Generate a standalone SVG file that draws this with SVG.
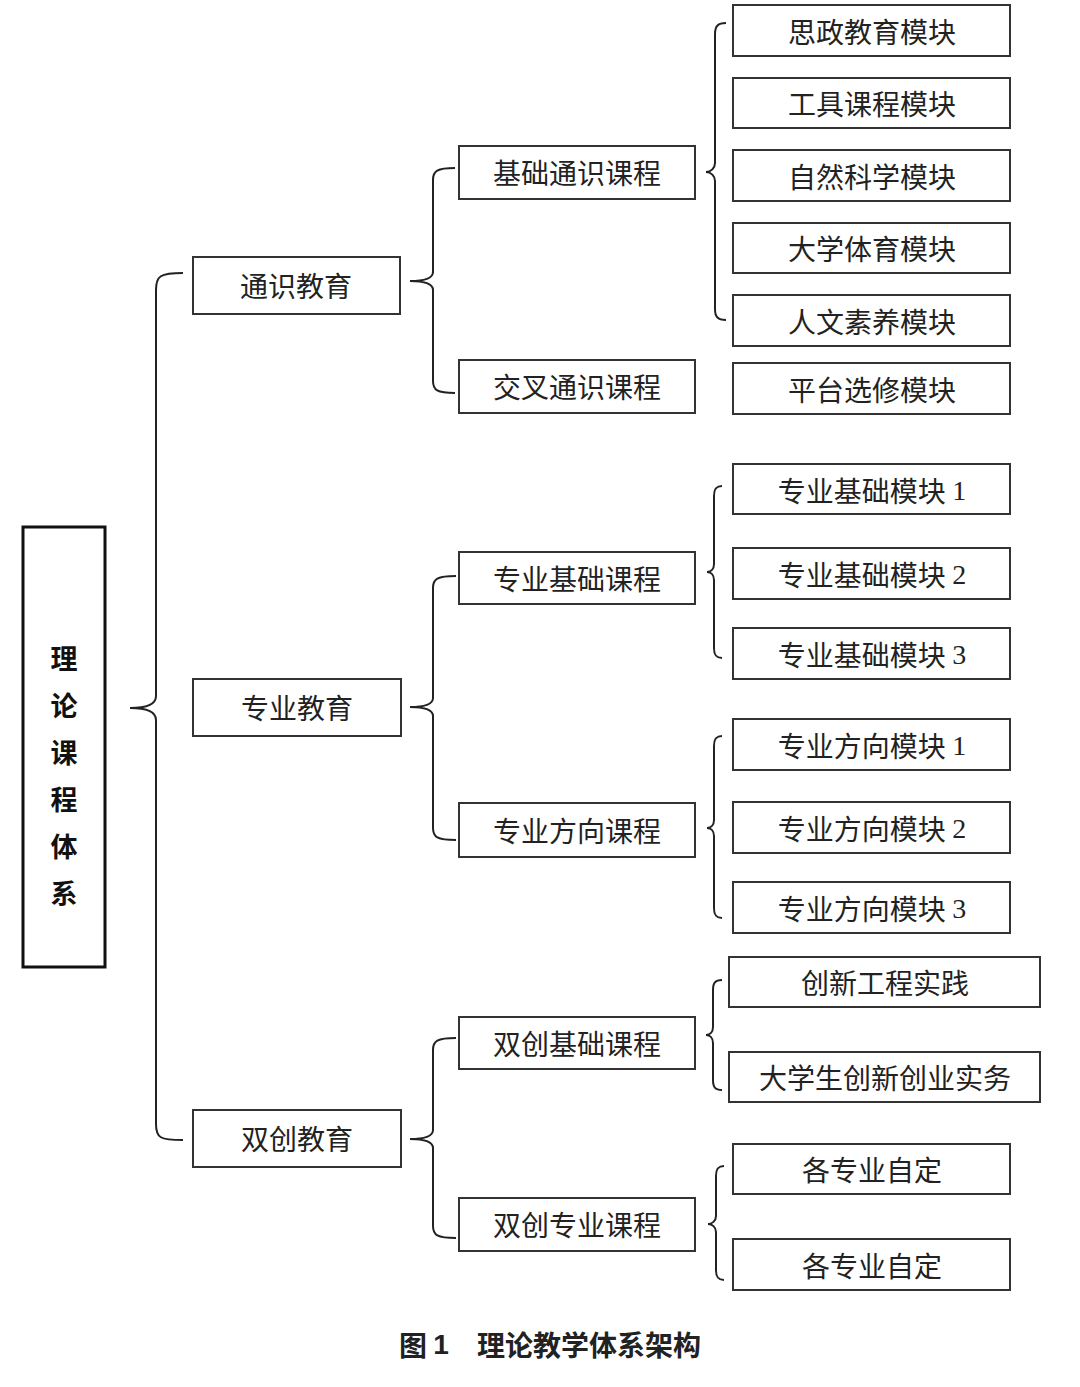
<svg xmlns="http://www.w3.org/2000/svg" width="1080" height="1387" viewBox="0 0 1080 1387">
<style>
.bx{fill:#fff;stroke:#333;stroke-width:2}
.root{fill:#fff;stroke:#111;stroke-width:3}
.t{font-family:"Noto Sans CJK SC","Noto Sans",sans-serif;font-size:28px;fill:#222;text-anchor:middle;dominant-baseline:central}
.rt{font-family:"Noto Sans CJK SC",sans-serif;font-size:27px;font-weight:700;fill:#111;text-anchor:middle;dominant-baseline:central}
.d{font-family:"Liberation Serif",serif}
.br{fill:none;stroke:#222;stroke-width:2}
.cap{font-family:"Noto Sans CJK SC",sans-serif;font-size:28px;font-weight:700;fill:#222;dominant-baseline:central}
</style>
<rect width="1080" height="1387" fill="#fff"/>
<g id="connectors">
<path class="br" d="M183,273 C160,273 156,276 156,290 L156,696 C156,704 146,708 130,708 C146,708 156,712 156,720 L156,1124 C156,1138 160,1140 183,1140"/>
<path class="br" d="M455,168 C437,168 433,171 433,180 L433,272 C433,278 424,281 410,281 C424,281 433,284 433,290 L433,381 C433,390 437,393 455,393"/>
<path class="br" d="M726,23 C718,23 715,26 715,34 L715,163 C715,168 711,172 706,172 C711,172 715,176 715,181 L715,309 C715,317 718,320 726,320"/>
<path class="br" d="M456,576 C437,576 433,579 433,588 L433,698 C433,704 424,707 410,707 C424,707 433,710 433,716 L433,828 C433,837 437,840 456,840"/>
<path class="br" d="M722,486 C716,486 714,489 714,496 L714,564 C714,569 711,572 707,572 C711,572 714,575 714,580 L714,648 C714,655 716,658 722,658"/>
<path class="br" d="M722,736 C716,736 714,739 714,746 L714,820 C714,825 711,828 707,828 C711,828 714,831 714,836 L714,908 C714,915 716,918 722,918"/>
<path class="br" d="M456,1038 C437,1038 433,1041 433,1050 L433,1130 C433,1136 424,1139 410,1139 C424,1139 433,1142 433,1148 L433,1226 C433,1235 437,1238 456,1238"/>
<path class="br" d="M722,980 C715,980 713,983 713,990 L713,1027 C713,1032 710,1035 706,1035 C710,1035 713,1038 713,1043 L713,1080 C713,1087 715,1090 722,1090"/>
<path class="br" d="M724,1166 C718,1166 716,1169 716,1176 L716,1216 C716,1221 712,1224 708,1224 C712,1224 716,1227 716,1232 L716,1270 C716,1277 718,1280 724,1280"/>
</g>
<g id="root"><rect class="root" x="23" y="527" width="82" height="440"/>
<text class="rt" x="64" y="657">理</text><text class="rt" x="64" y="704">论</text><text class="rt" x="64" y="751">课</text><text class="rt" x="64" y="798">程</text><text class="rt" x="64" y="845">体</text><text class="rt" x="64" y="892">系</text></g>
<g id="n-tongshi"><rect class="bx" x="193" y="257" width="207" height="57"/><text class="t" x="296" y="285">通识教育</text></g>
<g id="n-zhuanye"><rect class="bx" x="193" y="679" width="208" height="57"/><text class="t" x="297" y="707">专业教育</text></g>
<g id="n-shuangchuang"><rect class="bx" x="193" y="1110" width="208" height="57"/><text class="t" x="297" y="1138">双创教育</text></g>
<g id="n-jichutongshi"><rect class="bx" x="459" y="146" width="236" height="53"/><text class="t" x="577" y="172">基础通识课程</text></g>
<g id="n-jiaocha"><rect class="bx" x="459" y="360" width="236" height="53"/><text class="t" x="577" y="386">交叉通识课程</text></g>
<g id="n-zyjichu"><rect class="bx" x="459" y="552" width="236" height="52"/><text class="t" x="577" y="578">专业基础课程</text></g>
<g id="n-zyfangxiang"><rect class="bx" x="459" y="803" width="236" height="54"/><text class="t" x="577" y="830">专业方向课程</text></g>
<g id="n-scjichu"><rect class="bx" x="459" y="1017" width="236" height="52"/><text class="t" x="577" y="1043">双创基础课程</text></g>
<g id="n-sczhuanye"><rect class="bx" x="459" y="1198" width="236" height="53"/><text class="t" x="577" y="1224">双创专业课程</text></g>
<g id="m-sizheng"><rect class="bx" x="733" y="5" width="277" height="51"/><text class="t" x="872" y="31">思政教育模块</text></g>
<g id="m-gongju"><rect class="bx" x="733" y="78" width="277" height="50"/><text class="t" x="872" y="103">工具课程模块</text></g>
<g id="m-ziran"><rect class="bx" x="733" y="150" width="277" height="51"/><text class="t" x="872" y="176">自然科学模块</text></g>
<g id="m-tiyu"><rect class="bx" x="733" y="223" width="277" height="50"/><text class="t" x="872" y="248">大学体育模块</text></g>
<g id="m-renwen"><rect class="bx" x="733" y="295" width="277" height="51"/><text class="t" x="872" y="321">人文素养模块</text></g>
<g id="m-pingtai"><rect class="bx" x="733" y="363" width="277" height="51"/><text class="t" x="872" y="389">平台选修模块</text></g>
<g id="m-zj1"><rect class="bx" x="733" y="464" width="277" height="50"/><text class="t" x="872" y="490">专业基础模块 <tspan class="d">1</tspan></text></g>
<g id="m-zj2"><rect class="bx" x="733" y="548" width="277" height="51"/><text class="t" x="872" y="574">专业基础模块 <tspan class="d">2</tspan></text></g>
<g id="m-zj3"><rect class="bx" x="733" y="628" width="277" height="51"/><text class="t" x="872" y="654">专业基础模块 <tspan class="d">3</tspan></text></g>
<g id="m-zf1"><rect class="bx" x="733" y="719" width="277" height="51"/><text class="t" x="872" y="745">专业方向模块 <tspan class="d">1</tspan></text></g>
<g id="m-zf2"><rect class="bx" x="733" y="802" width="277" height="51"/><text class="t" x="872" y="828">专业方向模块 <tspan class="d">2</tspan></text></g>
<g id="m-zf3"><rect class="bx" x="733" y="882" width="277" height="51"/><text class="t" x="872" y="908">专业方向模块 <tspan class="d">3</tspan></text></g>
<g id="m-chuangxin"><rect class="bx" x="729" y="957" width="311" height="50"/><text class="t" x="885" y="982">创新工程实践</text></g>
<g id="m-shiwu"><rect class="bx" x="729" y="1052" width="311" height="50"/><text class="t" x="885" y="1077">大学生创新创业实务</text></g>
<g id="m-zd1"><rect class="bx" x="733" y="1144" width="277" height="50"/><text class="t" x="872" y="1169">各专业自定</text></g>
<g id="m-zd2"><rect class="bx" x="733" y="1239" width="277" height="51"/><text class="t" x="872" y="1265">各专业自定</text></g>
<g id="caption"><text class="cap" x="399" y="1344">图 <tspan font-family="Liberation Sans">1</tspan></text><text class="cap" x="477" y="1344">理论教学体系架构</text></g>
</svg>
